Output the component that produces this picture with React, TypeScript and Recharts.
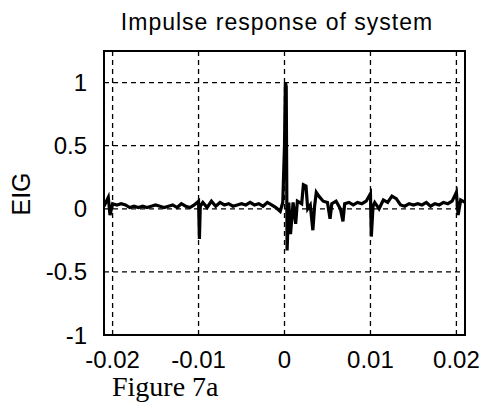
import { CartesianGrid, Line, LineChart, ReferenceArea, XAxis, YAxis } from 'recharts';

// time (s) and impulse response samples
const times = [
  -0.021, -0.0205, -0.0203, -0.02, -0.0195, -0.019, -0.0185, -0.018, -0.0175, -0.017,
  -0.0165, -0.016, -0.0155, -0.015, -0.0145, -0.014, -0.0135, -0.013, -0.0125, -0.012,
  -0.0115, -0.011, -0.0105, -0.01, -0.0099, -0.0098, -0.0095, -0.009, -0.0085, -0.008,
  -0.0075, -0.007, -0.0065, -0.006, -0.0055, -0.005, -0.0045, -0.004, -0.0035, -0.003,
  -0.0025, -0.002, -0.0015, -0.001, -0.0005, -0.0002, 0, 0.0001, 0.0002, 0.0003,
  0.0005, 0.0007, 0.001, 0.0013, 0.0015, 0.002, 0.0022, 0.0025, 0.0027, 0.003,
  0.0033, 0.0035, 0.0037, 0.004, 0.0045, 0.005, 0.0053, 0.0055, 0.006, 0.0065,
  0.0068, 0.007, 0.0075, 0.008, 0.0085, 0.009, 0.0095, 0.01, 0.0101, 0.0103,
  0.0105, 0.011, 0.0115, 0.012, 0.0125, 0.013, 0.0135, 0.014, 0.0145, 0.015,
  0.0155, 0.016, 0.0165, 0.017, 0.0175, 0.018, 0.0185, 0.019, 0.0195, 0.02,
  0.0202, 0.0205, 0.021,
];

const eig = [
  0.02, 0.09, -0.05, 0.04, 0.03, 0.04, 0.03, 0.01, 0.02, 0.01,
  0.02, 0.01, 0.02, 0.03, 0.02, 0.01, 0.02, 0.03, 0.01, 0.04,
  0.02, 0.01, 0.03, 0.06, -0.24, 0.02, 0.05, 0.01, 0.06, 0.02,
  0.05, 0.03, 0.04, 0.02, 0.03, 0.04, 0.03, 0.05, 0.03, 0.04,
  0.02, 0.05, 0.03, 0.01, -0.02, 0.05, 0.5, 1.0, 0.97, -0.33,
  0.05, -0.2, 0.05, -0.12, 0.06, 0.04, 0.19, 0.18, 0.0, 0.03,
  -0.17, 0.02, 0.13, 0.1, 0.06, 0.05, -0.08, 0.04, 0.06, 0.0,
  -0.1, 0.04, 0.05, 0.03, 0.05, 0.04, 0.06, 0.12, -0.22, 0.02,
  0.05, 0.0, 0.07, 0.05, 0.1, 0.08, 0.03, 0.02, 0.04, 0.03,
  0.04, 0.03, 0.05, 0.02, 0.04, 0.03, 0.05, 0.04, 0.06, 0.13,
  -0.05, 0.07, 0.05,
];

const xTicks = [-0.02, -0.01, 0, 0.01, 0.02];
const yTicks = [-1, -0.5, 0, 0.5, 1];
const xDomain = [-0.021, 0.021];
const yDomain = [-1, 1.25];

const data = times.map((t, i) => ({ t, eig: eig[i] }));

const tickFont = { fontFamily: 'Liberation Sans, Arial, sans-serif', fontSize: 24, fill: '#000' };

const App = () => {
  return (
    <div style={{ position: 'absolute', left: 0, top: 0, width: 480, height: 403, background: '#fff' }}>
      <LineChart
        width={480}
        height={403}
        data={data}
        margin={{ top: 51, right: 15, bottom: 0, left: 0 }}
      >
        <CartesianGrid stroke="#000" strokeWidth={1.3} strokeDasharray="5 4" horizontalValues={yTicks} verticalValues={xTicks} />
        <XAxis
          dataKey="t"
          type="number"
          domain={xDomain}
          ticks={xTicks}
          height={68}
          axisLine={false}
          tickLine={false}
          tickMargin={10}
          tick={tickFont}
          allowDataOverflow
        />
        <YAxis
          type="number"
          domain={yDomain}
          ticks={yTicks}
          width={104}
          axisLine={false}
          tickLine={false}
          tickMargin={11}
          tick={tickFont}
          allowDataOverflow
        />
        <ReferenceArea
          x1={xDomain[0]}
          x2={xDomain[1]}
          y1={yDomain[0]}
          y2={yDomain[1]}
          fill="none"
          fillOpacity={0}
          stroke="#000"
          strokeWidth={2}
          ifOverflow="visible"
        />
        <Line
          dataKey="eig"
          type="linear"
          stroke="#000"
          strokeWidth={3.2}
          dot={false}
          isAnimationActive={false}
        />
      </LineChart>
      <svg width={480} height={403} style={{ position: 'absolute', left: 0, top: 0, pointerEvents: 'none' }}>
        <text x={277} y={30} textAnchor="middle" fontFamily="Liberation Sans, Arial, sans-serif" fontSize={23} letterSpacing={1} fill="#000">
          Impulse response of system
        </text>
        <text x={30} y={194} textAnchor="middle" transform="rotate(-90 30 194)" fontFamily="Liberation Sans, Arial, sans-serif" fontSize={25} fill="#000">
          EIG
        </text>
        <text x={112} y={396} fontFamily="Liberation Serif, Times New Roman, serif" fontSize={28} fill="#000">
          Figure 7a
        </text>
      </svg>
    </div>
  );
};

export default App;
